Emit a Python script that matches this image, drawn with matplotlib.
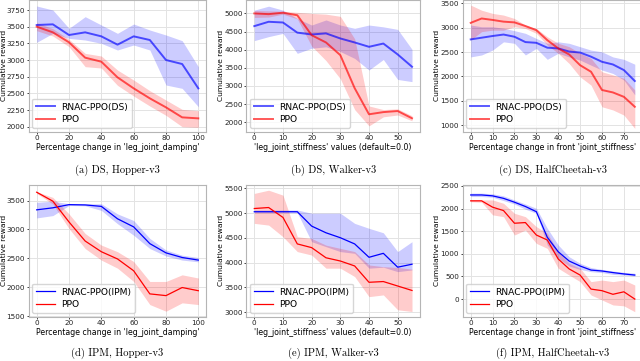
import matplotlib; matplotlib.use('Agg')
import matplotlib.pyplot as plt
import numpy as np

plt.rcParams['font.family']='DejaVu Sans'
plt.rcParams['axes.unicode_minus']=False

# ---- data ----
X_HOP=list(range(0,101,10))
X_WAL=list(range(0,56,5))
X_CHE=list(range(0,76,5))

# (a) DS, Hopper
A_RN=[3525,3535,3375,3415,3355,3230,3355,3300,3000,2940,2575]
A_RN_HI=[3810,3750,3475,3650,3525,3400,3540,3450,3375,3290,2900]
A_RN_LO=[3265,3400,3325,3300,3250,3150,3225,3150,2625,2575,2300]
A_PPO=[3500,3415,3265,3035,2975,2740,2575,2425,2290,2140,2125]
A_PPO_HI=[3560,3470,3310,3100,3060,2850,2700,2540,2400,2260,2240]
A_PPO_LO=[3440,3360,3200,2900,2880,2620,2460,2310,2170,2000,1990]
# (b) DS, Walker
B_RN=[4650,4770,4750,4470,4420,4450,4310,4200,4080,4170,3870,3530]
B_RN_HI=[5090,5200,5090,4860,4680,4820,4680,4590,4680,4630,4560,4010]
B_RN_LO=[4250,4360,4450,3900,4040,4080,3950,3760,3440,3730,3180,3120]
B_PPO=[5000,4980,5020,4950,4400,4200,3850,2940,2220,2280,2310,2110]
B_PPO_HI=[5080,5070,5060,5030,5000,4980,4920,4300,2450,2350,2370,2180]
B_PPO_LO=[4890,4900,4980,4850,4100,3700,3200,2350,1900,2150,2200,2040]
# (c) DS, HalfCheetah
C_RN=[2760,2795,2830,2860,2815,2705,2690,2590,2575,2510,2490,2405,2300,2245,2130,1905]
C_RN_HI=[3055,3020,3020,2990,2940,2885,2780,2680,2710,2680,2610,2540,2505,2400,2350,2250]
C_RN_LO=[2400,2440,2540,2710,2680,2440,2575,2350,2475,2400,2335,2230,2130,2060,1925,1620]
C_PPO=[3100,3190,3160,3125,3110,3035,2950,2745,2575,2450,2230,2095,1720,1670,1580,1375]
C_PPO_HI=[3465,3360,3295,3260,3190,3055,2985,2815,2680,2610,2475,2370,2095,2030,1960,1720]
C_PPO_LO=[2750,2920,2950,2950,3020,2985,2885,2645,2475,2265,1990,1820,1375,1310,1205,930]
# (d) IPM, Hopper
D_RN=[3340,3375,3430,3425,3400,3185,3045,2755,2595,2515,2470]
D_RN_HI=[3470,3490,3445,3445,3445,3270,3155,2845,2645,2555,2515]
D_RN_LO=[3200,3240,3415,3410,3330,3100,2900,2670,2540,2470,2440]
D_PPO=[3645,3490,3130,2800,2615,2490,2285,1885,1855,1995,1940]
D_PPO_HI=[3655,3555,3270,2930,2730,2615,2445,2100,2100,2215,2160]
D_PPO_LO=[3625,3440,3015,2670,2470,2330,2100,1700,1585,1730,1700]
# (e) IPM, Walker
E_RN=[5030,5030,5030,5030,4740,4605,4505,4380,4110,4190,3910,3970]
E_RN_HI=[5065,5065,5065,5065,5000,5000,5000,4795,4695,4605,4225,4425]
E_RN_LO=[5010,5010,5010,5010,4425,4325,4225,4190,3890,3910,3820,3855]
E_PPO=[5095,5115,4915,4380,4305,4100,4035,3935,3605,3620,3530,3440]
E_PPO_HI=[5400,5465,5365,4525,4490,4355,4290,4225,3955,3920,3905,3870]
E_PPO_LO=[4795,4760,4525,4225,4155,3890,3890,3720,3315,3350,3050,3015]
# (f) IPM, HalfCheetah
F_RN=[2300,2300,2280,2225,2140,2045,1930,1365,1045,840,730,640,620,585,555,530]
F_RN_HI=[2340,2340,2325,2280,2190,2100,2005,1565,1195,935,790,695,655,620,590,570]
F_RN_LO=[2265,2265,2250,2175,2100,1985,1895,1195,900,730,655,605,585,545,530,510]
F_PPO=[2170,2170,2030,1955,1675,1690,1415,1305,885,665,530,220,185,105,160,0]
F_PPO_HI=[2190,2190,2190,2115,1895,1820,1600,1455,1045,790,680,385,420,385,420,310]
F_PPO_LO=[2150,2140,1860,1820,1415,1525,1230,1120,680,530,385,90,-20,-130,-150,-280]

XL_HOP="Percentage change in 'leg_joint_damping'"
XL_WAL="'leg_joint_stiffness' values (default=0.0)"
XL_CHE="Percentage change in front 'joint_stiffness'"

PANELS=[
 dict(x=X_HOP,rn=(A_RN,A_RN_LO,A_RN_HI),ppo=(A_PPO,A_PPO_LO,A_PPO_HI),xl=XL_HOP,lab='RNAC-PPO(DS)',
      cap='(a) DS, Hopper-v3',ylim=(1925,3900),yt=[2000,2250,2500,2750,3000,3250,3500,3750],xt=[0,20,40,60,80,100]),
 dict(x=X_WAL,rn=(B_RN,B_RN_LO,B_RN_HI),ppo=(B_PPO,B_PPO_LO,B_PPO_HI),xl=XL_WAL,lab='RNAC-PPO(DS)',
      cap='(b) DS, Walker-v3',ylim=(1740,5370),yt=[2000,2500,3000,3500,4000,4500,5000],xt=[0,10,20,30,40,50]),
 dict(x=X_CHE,rn=(C_RN,C_RN_LO,C_RN_HI),ppo=(C_PPO,C_PPO_LO,C_PPO_HI),xl=XL_CHE,lab='RNAC-PPO(DS)',
      cap='(c) DS, HalfCheetah-v3',ylim=(863,3570),yt=[1000,1500,2000,2500,3000,3500],xt=[0,10,20,30,40,50,60,70]),
 dict(x=X_HOP,rn=(D_RN,D_RN_LO,D_RN_HI),ppo=(D_PPO,D_PPO_LO,D_PPO_HI),xl=XL_HOP,lab='RNAC-PPO(IPM)',
      cap='(d) IPM, Hopper-v3',ylim=(1490,3770),yt=[1500,2000,2500,3000,3500],xt=[0,20,40,60,80,100]),
 dict(x=X_WAL,rn=(E_RN,E_RN_LO,E_RN_HI),ppo=(E_PPO,E_PPO_LO,E_PPO_HI),xl=XL_WAL,lab='RNAC-PPO(IPM)',
      cap='(e) IPM, Walker-v3',ylim=(2910,5570),yt=[3000,3500,4000,4500,5000,5500],xt=[0,10,20,30,40,50]),
 dict(x=X_CHE,rn=(F_RN,F_RN_LO,F_RN_HI),ppo=(F_PPO,F_PPO_LO,F_PPO_HI),xl=XL_CHE,lab='RNAC-PPO(IPM)',
      cap='(f) IPM, HalfCheetah-v3',ylim=(-390,2520),yt=[0,500,1000,1500,2000,2500],xt=[0,10,20,30,40,50,60,70]),
]

W,H=640,361
COLS=[(28.6,206.4),(246.4,419.9),(462.5,643.0)]   # axes left/right in px
ROWS=[(0.0,131.7),(185.0,316.7)]                  # axes top/bottom in px
CAPY=[170,353]
GRID='#e3e3e3'; EDGE='#b5b5b5'

fig=plt.figure(figsize=(W/100,H/100),dpi=100)
for k,P in enumerate(PANELS):
    r,c=divmod(k,3)
    l,rt=COLS[c]; t,b=ROWS[r]
    ax=fig.add_axes([l/W,(H-b)/H,(rt-l)/W,(b-t)/H])
    x=np.array(P['x'])
    lw,al=(1.4,0.65) if r==0 else (0.9,1.0)
    for (m,lo,hi),col,lab in [(P['rn'],'blue',P['lab']),(P['ppo'],'red','PPO')]:
        ax.fill_between(x,lo,hi,color=col,alpha=0.2,lw=0)
        ax.plot(x,m,color=col,lw=lw,alpha=al,label=lab)
    ax.set_xlim(x[0]-0.05*(x[-1]-x[0]),x[-1]+0.05*(x[-1]-x[0]))
    ax.set_ylim(*P['ylim'])
    ax.set_xticks(P['xt']); ax.set_yticks(P['yt'])
    ax.tick_params(labelsize=5.2,length=1.6,width=0.6,pad=1.0,colors='#222',grid_color=GRID)
    ax.grid(True,color=GRID,lw=0.7); ax.set_axisbelow(True)
    for sp in ax.spines.values(): sp.set_color(EDGE); sp.set_linewidth(0.8)
    ax.set_xlabel(P['xl'],fontsize=5.6,labelpad=1.5)
    ax.set_ylabel('Cumulative reward',fontsize=5.4,labelpad=0.3)
    if c==0:  # first column: keep the label inside the figure's left edge
        ax.yaxis.set_label_coords(-(l-7.4)/(rt-l),0.5)
    ax.legend(loc='lower left',fontsize=6.6,frameon=True,framealpha=0.8,edgecolor='#cccccc',
              handlelength=2.0,borderpad=0.45,labelspacing=0.35,handletextpad=0.7,borderaxespad=0.4)
    fig.text(((l+rt)/2)/W,(H-CAPY[r])/H,P['cap'],ha='center',va='center',fontsize=7.6,family='cmr10')

fig.savefig('out.png',dpi=100)
